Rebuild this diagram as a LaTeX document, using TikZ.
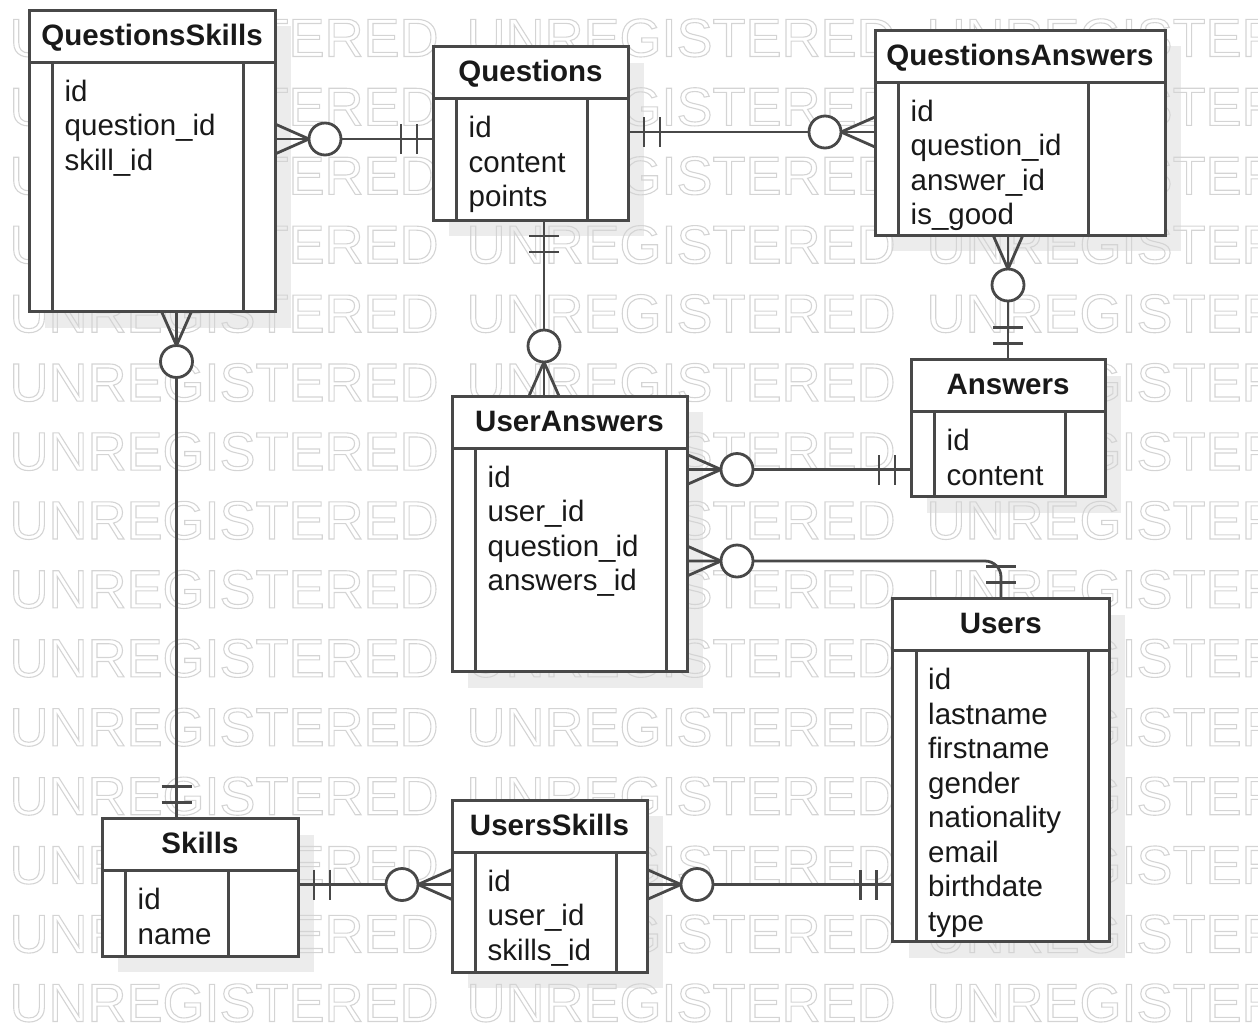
\documentclass[tikz,border=0pt]{standalone}
\usepackage{fontspec}
\setmainfont{Liberation Sans}

\definecolor{lc}{RGB}{72,72,72}
\definecolor{boxshadow}{RGB}{236,236,236}
\definecolor{wm}{RGB}{212,212,212}

\pgfdeclarelayer{shadows}
\pgfdeclarelayer{marks}
\pgfsetlayers{shadows,marks,main}

\tikzset{
  tbl/.style={draw=lc, line width=3pt, fill=white, inner sep=0pt, outer sep=0pt},
  tline/.style={draw=lc, line width=3pt},
  conn/.style={draw=lc, line width=2.8pt},
  ttl/.style={font=\fontsize{29.5}{34.5}\selectfont\bfseries, text=black!90, inner sep=0pt, anchor=base},
  fld/.style={font=\fontsize{29.5}{34.5}\selectfont, text=black!90, inner sep=0pt, anchor=base west},
  wmark/.style={font=\fontsize{54}{60}\selectfont, text=wm, line width=1.1pt, inner sep=0pt, anchor=base west},
}

% hollow letters for the background stamp
\newcommand\hollow[1]{\special{pdf:literal direct 1 Tr}#1\special{pdf:literal direct 0 Tr}}

% entity box: name, x1, y1, x2, y2, right column width, title, fields
\newcommand\ertable[8]{%
  \begin{pgfonlayer}{shadows}
    \fill[boxshadow] (#2+16,#3+16) rectangle (#4+16,#5+16);
  \end{pgfonlayer}
  \node[tbl, minimum width=#4-#2, minimum height=#5-#3] (#1) at ({(#2+#4)/2},{(#3+#5)/2}) {};
  \draw[tline] (#2,#3+52) -- (#4,#3+52);
  \draw[tline] (#2+23.5,#3+52) -- (#2+23.5,#5);
  \draw[tline] (#4-#6,#3+52) -- (#4-#6,#5);
  \node[ttl] (#1-title) at ({(#2+#4)/2},#3+35) {#7};
  \foreach \f [count=\i] in {#8} \node[fld] (#1-f\i) at (#2+35.5,{#3+91+34.5*(\i-1)}) {\f};
}

% zero-or-many end: crow's foot plus ring, pointing away from the box
\newcommand\zeromany[2]{%
  \begin{scope}[shift={#1}, rotate=#2]
    \draw[conn] (0,15) -- (34,0);
    \draw[conn] (0,-15) -- (34,0);
    \draw[conn, fill=white] (50,0) circle (16pt);
  \end{scope}}

% exactly-one end: two bars
\newcommand\exactlyone[2]{%
  \begin{scope}[shift={#1}, rotate=#2]
    \draw[conn] (16,-15) -- (16,15);
    \draw[conn] (32,-15) -- (32,15);
  \end{scope}}

\begin{document}
\begin{tikzpicture}[x=1pt,y=-1pt]
\useasboundingbox (0,0) rectangle (1258,1023);

% background stamp
\begin{pgfonlayer}{marks}
  \clip (0,0) rectangle (1258,1023);
  \foreach \k in {0,...,14} {
    \foreach \c in {9,466,926} {
      \node[wmark] (wm-\k-\c) at (\c,{56.5+68.93*\k}) {\hollow{UNREGISTERED}};
    }
  }
\end{pgfonlayer}

% entities
\ertable{qs}{29}{10}{275}{311.5}{31.5}{QuestionsSkills}{id,question\_id,skill\_id}
\ertable{q}{433}{46.5}{628}{220}{40.5}{Questions}{id,content,points}
\ertable{qa}{875}{30}{1165}{235}{77}{QuestionsAnswers}{id,question\_id,answer\_id,is\_good}
\ertable{a}{911}{359.5}{1105}{496.5}{40}{Answers}{id,content}
\ertable{ua}{452}{396}{687}{671.5}{21}{UserAnswers}{id,user\_id,question\_id,answers\_id}
\ertable{u}{892.5}{598.5}{1109}{941.5}{21}{Users}{id,lastname,firstname,gender,nationality,email,birthdate,type}
\ertable{sk}{102}{818.5}{298}{956}{70}{Skills}{id,name}
\ertable{us}{452}{800}{647}{972}{31}{UsersSkills}{id,user\_id,skills\_id}

% connector tracks
\coordinate (h1) at (0,139);
\coordinate (h2) at (0,132);
\coordinate (v3) at (544,0);
\coordinate (v4) at (1008,0);
\coordinate (h5) at (0,469.5);
\coordinate (h6) at (0,561);
\coordinate (v6) at (1001,0);
\coordinate (v7) at (176.5,0);
\coordinate (h8) at (0,884.5);

% relationships
\draw[conn] (qs.east |- h1) -- (q.west |- h1);
\draw[conn] (q.east |- h2) -- (qa.west |- h2);
\draw[conn] (q.south -| v3) -- (ua.north -| v3);
\draw[conn] (qa.south -| v4) -- (a.north -| v4);
\draw[conn] (ua.east |- h5) -- (a.west |- h5);
\draw[conn, rounded corners=16pt] (ua.east |- h6) -| (u.north -| v6);
\draw[conn] (qs.south -| v7) -- (sk.north -| v7);
\draw[conn] (sk.east |- h8) -- (us.west |- h8);
\draw[conn] (us.east |- h8) -- (u.west |- h8);

% cardinality ends
\zeromany{(qs.east |- h1)}{0}
\exactlyone{(q.west |- h1)}{180}
\exactlyone{(q.east |- h2)}{0}
\zeromany{(qa.west |- h2)}{180}
\exactlyone{(q.south -| v3)}{-90}
\zeromany{(ua.north -| v3)}{90}
\zeromany{(qa.south -| v4)}{-90}
\exactlyone{(a.north -| v4)}{90}
\zeromany{(ua.east |- h5)}{0}
\exactlyone{(a.west |- h5)}{180}
\zeromany{(ua.east |- h6)}{0}
\exactlyone{(u.north -| v6)}{90}
\zeromany{(qs.south -| v7)}{-90}
\exactlyone{(sk.north -| v7)}{90}
\exactlyone{(sk.east |- h8)}{0}
\zeromany{(us.west |- h8)}{180}
\zeromany{(us.east |- h8)}{0}
\exactlyone{(u.west |- h8)}{180}
\end{tikzpicture}
\end{document}
